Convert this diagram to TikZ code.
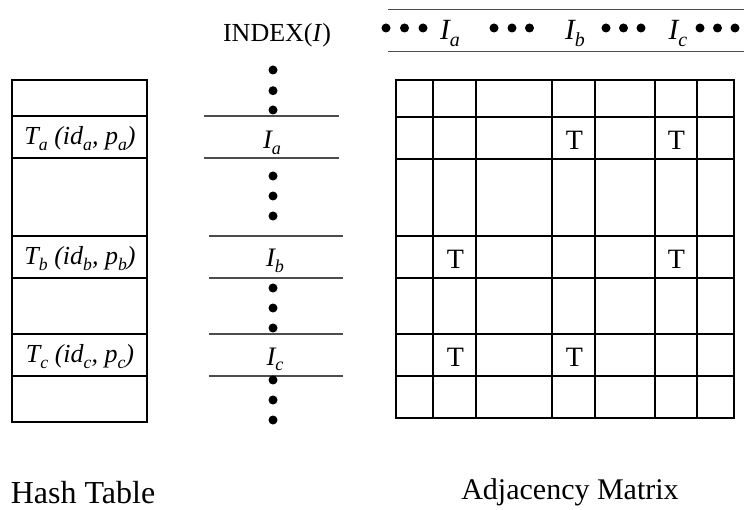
\documentclass[tikz,border=0pt]{standalone}
\usepackage{fontspec}
\setmainfont{Liberation Serif}
% lowered index letter for the italic labels
\newcommand\lowidx[1]{\raisebox{-0.22em}{\scalebox{0.68}{\itshape #1}}}
\begin{document}
\begin{tikzpicture}[x=0.75pt,y=-0.75pt,
  grid/.style={line width=1.4pt,black},
  rule/.style={line width=1pt,black!70},
  lbl/.style={font=\fontsize{19.5}{22}\selectfont,inner sep=0pt},
  toplbl/.style={font=\fontsize{22}{26}\selectfont,inner sep=0pt},
  midlbl/.style={font=\fontsize{20}{24}\selectfont,inner sep=0pt},
  tcell/.style={font=\fontsize{21}{24}\selectfont,inner sep=0pt},
  dotfill/.style={fill=black}]
\useasboundingbox (0,0) rectangle (744,510);

% ---- hash table ----
\draw[grid] (12,80) rectangle (147,422);
\foreach \y in {116,158,236,278,334,376} \draw[grid] (12,\y) -- (147,\y);
\node[lbl,anchor=base] (hta) at (80,145) {\textit{T\lowidx{a} (id\lowidx{a}, p\lowidx{a})}};
\node[lbl,anchor=base] (htb) at (80,265) {\textit{T\lowidx{b} (id\lowidx{b}, p\lowidx{b})}};
\node[lbl,anchor=base] (htc) at (80,363) {\textit{T\lowidx{c} (id\lowidx{c}, p\lowidx{c})}};

% ---- index column ----
\node[lbl,anchor=base] (idx) at (277,42) {INDEX(\textit{I})};
\foreach \y in {116,158} \draw[rule] (204,\y) -- (339,\y);
\foreach \y in {236,278,334,376} \draw[rule] (209,\y) -- (343,\y);
\foreach \y in {70,90.7,110,176,196,216,288,308,328,380,400,420}
  \fill[dotfill] (273,\y) circle (4.5);
\node[midlbl,anchor=base] (ia) at (272,149) {\textit{I\lowidx{a}}};
\node[midlbl,anchor=base] (ib) at (275,267) {\textit{I\lowidx{b}}};
\node[midlbl,anchor=base] (ic) at (275,365) {\textit{I\lowidx{c}}};

% ---- index strip above the matrix ----
\draw[rule] (388,9.3) -- (744,9.3);
\draw[rule] (388,51.7) -- (744,51.7);
\foreach \x in {386,404.5,423,494,512,529.5,606,623.5,641,700,717.5,735}
  \fill[dotfill] (\x,28) circle (4.5);
\node[toplbl,anchor=base] (ta) at (450,40) {\textit{I\lowidx{a}}};
\node[toplbl,anchor=base] (tb) at (575,40) {\textit{I\lowidx{b}}};
\node[toplbl,anchor=base] (tc) at (678,40) {\textit{I\lowidx{c}}};

% ---- adjacency matrix ----
\draw[grid] (396,80) rectangle (734,418);
\foreach \x in {433,476,552,595,655,697} \draw[grid] (\x,80) -- (\x,418);
\foreach \y in {117,159,236,278,334,376} \draw[grid] (396,\y) -- (734,\y);
\node[tcell] (m24) at (574.5,140) {T};
\node[tcell] (m26) at (676.5,140) {T};
\node[tcell] (m42) at (455.5,259) {T};
\node[tcell] (m46) at (676.5,259) {T};
\node[tcell] (m62) at (455.5,357) {T};
\node[tcell] (m64) at (574.5,357) {T};

% ---- captions ----
\node[font=\fontsize{24}{28}\selectfont,inner sep=0pt,anchor=base] (caphash) at (83,503) {Hash Table};
\node[font=\fontsize{22.5}{26}\selectfont,inner sep=0pt,anchor=base] (capadj) at (570,499) {Adjacency Matrix};
\end{tikzpicture}
\end{document}
